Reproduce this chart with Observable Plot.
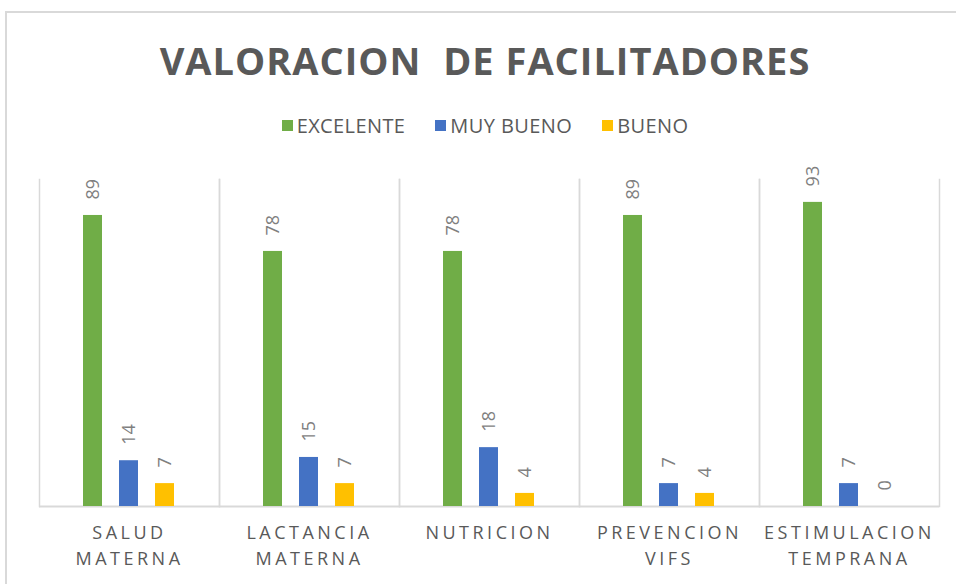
<!DOCTYPE html>
<html>
<head>
<meta charset="utf-8">
<script src="https://cdn.jsdelivr.net/npm/d3@7"></script>
<script src="https://cdn.jsdelivr.net/npm/@observablehq/plot@0.6"></script>
<style>
  html, body { margin: 0; padding: 0; background: #fff; }
  body { width: 956px; height: 584px; position: relative; overflow: hidden; font-family: "Open Sans", sans-serif; }
  #border { position: absolute; left: 5px; top: 11px; width: 1000px; height: 700px; border-left: 2px solid #d9d9d9; border-top: 2px solid #d9d9d9; }
  #title { position: absolute; left: 0; width: 970px; top: 34px; text-align: center; font-weight: 700; font-size: 38px; letter-spacing: 1px; color: #595959; white-space: pre; }
  #legend { position: absolute; left: 0; width: 970px; top: 112px; display: flex; justify-content: center; gap: 30px; font-size: 20px; letter-spacing: 0.4px; color: #595959; }
  #legend .item { display: flex; align-items: center; gap: 4px; }
  #legend .sw { width: 11px; height: 11px; display: inline-block; }
  #chart { position: absolute; left: 0; top: 150px; }
  #chart svg g[aria-label="fx-axis tick label"] text { letter-spacing: 3.5px; }
</style>
</head>
<body>
<div id="border"></div>
<div id="title">VALORACION  DE FACILITADORES</div>
<div id="legend"></div>
<div id="chart"></div>
<script>
const categories = ["SALUD MATERNA", "LACTANCIA MATERNA", "NUTRICION", "PREVENCION VIFS", "ESTIMULACION TEMPRANA"];
const tickLabels = ["SALUD\nMATERNA", "LACTANCIA\nMATERNA", "NUTRICION", "PREVENCION\nVIFS", "ESTIMULACION\nTEMPRANA"];
const series = ["EXCELENTE", "MUY BUENO", "BUENO"];
const excelente = [89, 78, 78, 89, 93];
const muyBueno = [14, 15, 18, 7, 7];
const bueno = [7, 7, 4, 4, 0];
const colors = ["#70AD47", "#4472C4", "#FFC000"];

const valuesBySeries = [excelente, muyBueno, bueno];
const data = [];
categories.forEach((c, i) => {
  series.forEach((s, j) => {
    data.push({category: c, series: s, value: valuesBySeries[j][i]});
  });
});

// legend
const legend = document.getElementById("legend");
series.forEach((s, j) => {
  const item = document.createElement("div");
  item.className = "item";
  const sw = document.createElement("span");
  sw.className = "sw";
  sw.style.background = colors[j];
  const t = document.createElement("span");
  t.textContent = s;
  item.appendChild(sw);
  item.appendChild(t);
  legend.appendChild(item);
});

const chart = Plot.plot({
  width: 956,
  height: 434,
  marginTop: 29,
  marginBottom: 78,
  marginLeft: 37,
  marginRight: 16,
  style: {fontFamily: "'Open Sans', sans-serif", background: "transparent"},
  fx: {domain: categories, padding: 0, label: null, axis: null},
  x: {domain: series, paddingInner: 0.46, paddingOuter: 1.17, axis: null},
  y: {domain: [0, 100], axis: null},
  color: {domain: series, range: colors},
  marks: [
    Plot.frame({anchor: "left", stroke: "#d9d9d9", strokeWidth: 1.5}),
    Plot.frame({anchor: "right", stroke: "#d9d9d9", strokeWidth: 1.5}),
    Plot.ruleY([0], {stroke: "#d9d9d9", strokeWidth: 2}),
    Plot.barY(data, {fx: "category", x: "series", y: "value", fill: "series"}),
    Plot.text(data, {
      fx: "category", x: "series", y: "value",
      text: d => String(d.value),
      rotate: -90, textAnchor: "start", dy: -16,
      fill: "#7f7f7f", fontSize: 18
    }),
    Plot.axisFx({
      anchor: "bottom", tickSize: 0, tickPadding: 15, label: null,
      tickFormat: d => tickLabels[categories.indexOf(d)],
      fontSize: 18, lineHeight: 1.4, fill: "#595959"
    })
  ]
});
document.getElementById("chart").appendChild(chart);
</script>
</body>
</html>
